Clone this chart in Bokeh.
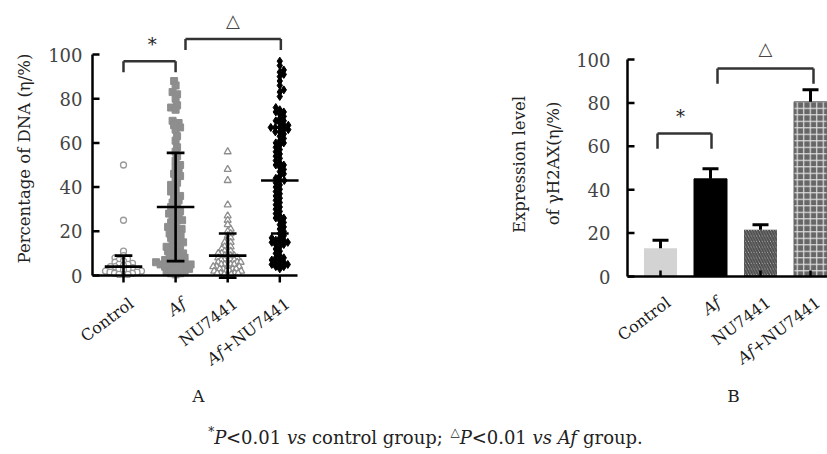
import math
from bokeh.plotting import figure
from bokeh.models import Range1d, Label, ColumnDataSource
from bokeh.embed import file_html
from bokeh.resources import INLINE

# ---------------- data ----------------
groups = ["Control", "Af", "NU7441", "Af+NU7441"]
y_ticks = [0, 20, 40, 60, 80, 100]

# Panel A: percentage of DNA, single-cell values
control_dna = [50, 25, 11, 9, 8, 7.5, 7, 6.5, 6, 5.5, 5, 5, 4.5, 4, 4, 3.5, 3, 3,
               2.5, 2, 2, 1.5, 1.5, 1, 1, 0.5, 0.5, 0.5]
af_dna = [88, 86, 83, 82, 80, 77, 76, 75, 70, 69, 68, 67, 66, 63, 61, 58, 56, 54,
          52, 50, 49, 47, 46, 45, 44, 42, 41, 40, 38, 37, 36, 35, 34, 33, 32, 31,
          30, 29, 28, 28, 27, 26, 25, 25, 24, 23, 22, 21, 21, 20, 19, 18, 18, 17,
          16, 15, 15, 14, 13, 13, 12, 11, 11, 10, 9, 9, 8, 8, 7, 7, 6, 6, 6, 5, 5,
          5, 4, 4, 4, 3, 3, 2, 2, 1, 1, 0.5]
nu_dna = [56, 48, 43, 32, 27, 25, 23, 21, 20, 19, 18, 17, 16, 15, 15, 14, 13, 13,
          12, 12, 11, 11, 10, 10, 10, 9, 9, 9, 8, 8, 8, 7, 7, 7, 7, 6, 6, 6, 6, 5,
          5, 5, 5, 4, 4, 4, 4, 3, 3, 3, 3, 2, 2, 2, 2, 1, 1, 1, 1, 0.5, 0.5, 0.5]
afnu_dna = [97, 95, 93, 92, 91, 90, 88, 86, 84, 83, 81, 76, 75, 74, 74, 73, 72,
            71, 70, 70, 69, 68, 68, 67, 67, 67, 66, 66, 65, 65, 64, 63, 62, 61, 60,
            60, 59, 58, 57, 56, 55, 54, 53, 52, 51, 50, 50, 49, 48, 47, 46, 45, 44,
            43, 43, 42, 41, 40, 39, 38, 37, 36, 35, 34, 33, 32, 31, 30, 29, 28, 27,
            26, 26, 25, 24, 23, 22, 21, 20, 19, 18, 17, 17, 16, 16, 15, 15, 15, 14,
            14, 13, 12, 11, 10, 9, 8, 8, 7, 7, 6, 6, 5, 5, 5, 4, 4, 3]
dna_mean = [4, 31, 9, 43]
dna_sd = [5, 24.5, 10, 24]

# Panel B: expression level of gamma-H2AX
h2ax_mean = [13, 45, 21.5, 80.5]
h2ax_err = [3.7, 4.6, 2.4, 5.6]

# ---------------- layout constants ----------------
W, H = 827, 454
SERIF = "DejaVu Serif"
# panel A: axis corner at page (92, 275); 52.1 px per group, 2.21 px per %
AX_X, AX_Y, PXA, PYA, XA0, XA1 = 92, 275, 52.1, 2.21, 0.405, 4.34
# panel B: axis corner at page (627, 276); 50 px per group, 2.17 px per %
BX_X, BX_Y, PXB, PYB, XB0, XB1 = 627, 276, 50.0, 2.17, 0.34, 4.34
ANG = 37.0

CHAR_W = {' ': .318, '*': .5, '+': .838, '<': .838, '.': .318, ';': .337,
          'A': .722, 'N': .872, 'U': .857, 'P': .603, 'a': .596, 'c': .56,
          'f': .37, 'g': .64, 'l': .32, 'n': .644, 'o': .602, 'p': .64,
          'r': .478, 's': .513, 't': .402, 'u': .644, 'v': .565}


def est_width(text, size):
    return sum(CHAR_W.get(ch, .636 if ch.isdigit() else .6) for ch in text) * size


def swarm_offsets(vals, px_x, px_y, diam):
    order = sorted(range(len(vals)), key=lambda k: vals[k])
    placed, offs = [], [0.0] * len(vals)
    for n, k in enumerate(order):
        y = vals[k] * px_y
        best, step = None, 0
        while best is None:
            if step == 0:
                cands = [0.0]
            elif n % 2 == 0:
                cands = [step * 0.5, -step * 0.5]
            else:
                cands = [-step * 0.5, step * 0.5]
            for x in cands:
                if all((x - a) ** 2 + (y - b) ** 2 >= diam ** 2 for a, b in placed):
                    best = x
                    break
            step += 1
        placed.append((best, y))
        offs[k] = best / px_x
    return offs


# one canvas; default ranges are page pixels (y up), panels use extra ranges
p = figure(width=W, height=H, x_range=Range1d(0, W), y_range=Range1d(0, H),
           output_backend="svg", toolbar_location=None,
           x_axis_type=None, y_axis_type=None,
           min_border_left=0, min_border_right=0, min_border_top=0, min_border_bottom=0)
p.grid.visible = False
p.outline_line_color = None
p.background_fill_color = "white"
p.border_fill_color = "white"
p.extra_x_ranges = {
    "ax": Range1d(XA0 - AX_X / PXA, XA0 + (W - AX_X) / PXA),
    "bx": Range1d(XB0 - BX_X / PXB, XB0 + (W - BX_X) / PXB)}
p.extra_y_ranges = {
    "ay": Range1d((AX_Y - H) / PYA, AX_Y / PYA),
    "by": Range1d((BX_Y - H) / PYB, BX_Y / PYB)}
RA = dict(x_range_name="ax", y_range_name="ay")
RB = dict(x_range_name="bx", y_range_name="by")


def txt(x, y, text, rng=None, size="16px", align="center", baseline="middle", angle=0.0,
        style="normal", color="#222222", xo=0, yo=0, font=SERIF):
    kw = dict(rng) if rng else {}
    p.add_layout(Label(x=x, y=y, x_offset=xo, y_offset=yo, text=text,
                       text_font=font, text_font_size=size, text_font_style=style,
                       text_color=color, text_align=align, text_baseline=baseline,
                       angle=angle, angle_units="deg", **kw))


def draw_axes(rng, x0, x1, px_x, px_y, x_tick_len, standoff):
    # axis lines
    p.segment(x0=[x0, x0], y0=[0, 0], x1=[x0, x1], y1=[100, 0],
              line_color="black", line_width=2.5, **rng)
    # y ticks (inward) and labels
    p.segment(x0=[x0] * len(y_ticks), x1=[x0 + 7 / px_x] * len(y_ticks),
              y0=y_ticks, y1=y_ticks, line_color="black", line_width=2.5, **rng)
    for t in y_ticks:
        txt(x0, t, str(t), rng, size="18px", align="right", color="#444444",
            xo=-standoff)
    # x ticks
    gx = list(range(1, len(groups) + 1))
    p.segment(x0=gx, x1=gx, y0=[0] * len(gx), y1=[x_tick_len / px_y] * len(gx),
              line_color="black", line_width=2.5, **rng)


def category_labels(rng, y_off):
    c, s = math.cos(math.radians(ANG)), math.sin(math.radians(ANG))
    kw = dict(size="16px", align="right", baseline="middle", angle=ANG, color="#1a1a1a")
    for i, name in enumerate(groups, start=1):
        if name == "Af":
            txt(i, 0, "Af", rng, style="italic", xo=8, yo=y_off, **kw)
        elif name == "Af+NU7441":
            rest = "+NU7441"
            w = est_width(rest, 16)
            txt(i, 0, rest, rng, xo=8, yo=y_off, **kw)
            txt(i, 0, "Af", rng, style="italic", xo=8 - w * c, yo=y_off - w * s, **kw)
        else:
            txt(i, 0, name, rng, xo=8, yo=y_off, **kw)


def brackets(rng, specs, leg):
    xs0, xs1, ys0, ys1 = [], [], [], []
    for (x0, x1, top) in specs:
        xs0 += [x0, x0, x1]
        xs1 += [x1, x0, x1]
        ys0 += [top, top, top]
        ys1 += [top, top - leg, top - leg]
    p.segment(x0=xs0, y0=ys0, x1=xs1, y1=ys1, line_color="#333333", line_width=2.5,
              **rng)


gx = [1, 2, 3, 4]

# ---------------- Panel A ----------------
point_sets = [control_dna, af_dna, nu_dna, afnu_dna]
marker_styles = [
    dict(marker="circle", size=6, fill_color="white", line_color="#9a9a9a", line_width=1.3),
    dict(marker="square", size=7, fill_color="#8e8e8e", line_color="#8e8e8e", line_width=1),
    dict(marker="triangle", size=7, fill_color="white", line_color="#8e8e8e", line_width=1.3),
    dict(marker="diamond", size=8, fill_color="black", line_color="black", line_width=1),
]
swarm_diam = [4.4, 4.6, 3.5, 4.3]
for gi, (vals, st, d) in enumerate(zip(point_sets, marker_styles, swarm_diam), start=1):
    offs = swarm_offsets(vals, PXA, PYA, d)
    src = ColumnDataSource(dict(x=[gi + o for o in offs], y=vals))
    p.scatter("x", "y", source=src, **st, **RA)

draw_axes(RA, XA0, XA1, PXA, PYA, -7, 10)

lo = [m - s for m, s in zip(dna_mean, dna_sd)]
hi = [m + s for m, s in zip(dna_mean, dna_sd)]
p.segment(x0=[x - 0.36 for x in gx], x1=[x + 0.36 for x in gx], y0=dna_mean, y1=dna_mean,
          line_color="black", line_width=2.6, **RA)
p.segment(x0=gx, x1=gx, y0=[max(v, 0) for v in lo], y1=hi, line_color="black",
          line_width=2.6, **RA)
p.segment(x0=[x - 0.17 for x in gx], x1=[x + 0.17 for x in gx], y0=hi, y1=hi,
          line_color="black", line_width=2.6, **RA)
p.segment(x0=[x - 0.17 for x in gx[1:]], x1=[x + 0.17 for x in gx[1:]], y0=lo[1:],
          y1=lo[1:], line_color="black", line_width=2.6, **RA)

brackets(RA, [(1.0, 2.0, 97), (2.19, 4.02, 107)], leg=5)
txt(1.55, 104.3, "*", RA, size="18px", color="#222222")
txt(3.1, 115.2, "\u25b3", RA, size="18px", color="#444444", font="DejaVu Sans")

txt(XA0 + (24 - AX_X) / PXA, (AX_Y - 158) / PYA, "Percentage of DNA (\u03b7/%)", RA,
    size="16.5px", angle=90)
category_labels(RA, -26)
txt(XA0 + (198 - AX_X) / PXA, 0, "A", RA, size="17px", yo=-120)

# ---------------- Panel B ----------------
bar_styles = [
    dict(fill_color="#d3d3d3", line_color=None),
    dict(fill_color="black", line_color="black"),
    dict(fill_color="#d6d6d6", line_color=None, hatch_pattern="\\", hatch_color="#4d4d4d",
         hatch_weight=2.2, hatch_scale=5.5),
    dict(fill_color="#666666", line_color="#666666", hatch_pattern="+", hatch_color="#e0e0e0",
         hatch_weight=1.2, hatch_scale=6.5),
]
for i, st in enumerate(bar_styles):
    p.vbar(x=[gx[i]], top=[h2ax_mean[i]], bottom=0, width=0.66, **st, **RB)

draw_axes(RB, XB0, XB1, PXB, PYB, 6, 17)

tops = [m + e for m, e in zip(h2ax_mean, h2ax_err)]
p.segment(x0=gx, x1=gx, y0=h2ax_mean, y1=tops, line_color="black", line_width=3, **RB)
p.segment(x0=[x - 0.16 for x in gx], x1=[x + 0.16 for x in gx], y0=tops, y1=tops,
          line_color="black", line_width=3, **RB)

brackets(RB, [(0.94, 2.02, 65.9), (2.14, 4.06, 95.8)], leg=7)
txt(1.40, 73.7, "*", RB, size="18px", color="#222222")
txt(3.10, 105.0, "\u25b3", RB, size="18px", color="#444444", font="DejaVu Sans")

txt(XB0 + (519 - BX_X) / PXB, (BX_Y - 164) / PYB, "Expression level", RB,
    size="16.5px", angle=90)
txt(XB0 + (553 - BX_X) / PXB, (BX_Y - 163) / PYB, "of \u03b3H2AX(\u03b7/%)", RB,
    size="16.5px", angle=90)
category_labels(RB, -24)
txt(XB0 + (733 - BX_X) / PXB, 0, "B", RB, size="17px", yo=-119)

# ---------------- Caption (page pixel coordinates) ----------------
SP = est_width(" ", 18)
pieces = [("*", "normal", 12, True, 0), ("P", "italic", 18, False, 1),
          ("<0.01", "normal", 18, False, SP), ("vs", "italic", 18, False, SP),
          ("control group;", "normal", 18, False, SP + 2),
          ("\u25b3", "normal", 12, True, 0), ("P", "italic", 18, False, 1),
          ("<0.01", "normal", 18, False, SP), ("vs", "italic", 18, False, SP),
          ("Af", "italic", 18, False, SP), ("group.", "normal", 18, False, 0)]
widths = [0.77 * s if t == "\u25b3" else est_width(t, s) for t, _, s, _, _ in pieces]
total = sum(w + g for w, (_, _, _, _, g) in zip(widths, pieces))
cx = 425 - total / 2
for (t, stl, s, sup, gap), w in zip(pieces, widths):
    txt(cx, H - (431 if sup else 437), t, None, size=f"{s}px", align="left",
        style=stl, font="DejaVu Sans" if t == "\u25b3" else SERIF)
    cx += w + gap

open("out.html", "w").write(file_html(p, INLINE))
